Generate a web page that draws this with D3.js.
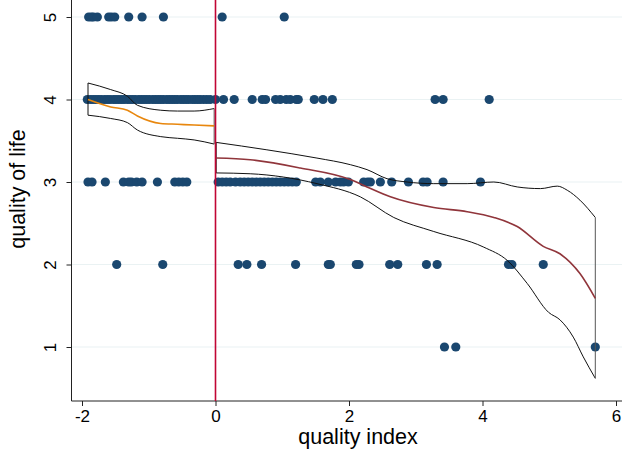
<!DOCTYPE html>
<html><head><meta charset="utf-8">
<script src="https://cdn.jsdelivr.net/npm/d3@7"></script>
<style>body{margin:0;background:#fff}svg{display:block}text{font-family:"Liberation Sans",Arial,sans-serif;fill:#000}</style>
</head><body><svg id="c" width="622" height="451"></svg>
<script>
// data
const xTicks=[-2,0,2,4,6];
const yTicks=[1,2,3,4,5];
const row5=[-1.90,-1.86,-1.83,-1.77,-1.60,-1.56,-1.51,-1.30,-1.10,-0.78,0.10,1.03];
const row4=[-1.92,-1.87,-1.83,-1.79,-1.75,-1.71,-1.66,-1.62,-1.58,-1.53,-1.49,-1.45,-1.41,-1.37,-1.32,-1.28,-1.24,-1.20,-1.15,-1.11,-1.07,-1.03,-0.99,-0.94,-0.90,-0.86,-0.82,-0.78,-0.73,-0.69,-0.65,-0.61,-0.57,-0.52,-0.48,-0.44,-0.40,-0.35,-0.31,-0.27,-0.23,-0.18,-0.13,-0.08,0.0,0.12,0.28,0.55,0.70,0.75,0.90,0.97,1.06,1.12,1.21,1.24,1.48,1.61,1.75,3.29,3.41,4.10];
const row3=[-1.91,-1.85,-1.65,-1.38,-1.30,-1.26,-1.18,-1.10,-0.87,-0.61,-0.55,-0.49,-0.43,0.04,0.10,0.16,0.22,0.30,0.37,0.43,0.49,0.55,0.61,0.67,0.73,0.79,0.85,0.91,0.97,1.03,1.09,1.15,1.21,1.50,1.57,1.69,1.80,1.87,1.92,1.99,2.22,2.28,2.32,2.47,2.64,2.89,3.11,3.17,3.41,3.97];
const row2=[-1.48,-0.79,0.34,0.47,0.69,1.20,1.69,1.72,2.11,2.15,2.61,2.73,3.16,3.32,4.39,4.44,4.91];
const row1=[3.43,3.60,5.69];
const leftX=[-1.91,-1.57,-1.32,-1.17,-0.82,-0.57,-0.32,-0.02];
const leftFit=[4.00,3.91,3.87,3.80,3.71,3.70,3.69,3.68];
const leftUp=[4.20,4.12,4.04,3.93,3.87,3.86,3.86,3.89];
const leftLo=[3.81,3.77,3.72,3.63,3.55,3.53,3.51,3.46];
const upX=[0.01,0.77,1.52,2.02,2.27,2.57,2.87,3.27,3.77,4.17,4.52,4.87,5.12,5.27,5.46,5.69];
const upY=[3.48,3.39,3.29,3.21,3.15,3.04,3.00,2.98,2.98,3.00,2.94,2.92,2.95,2.90,2.78,2.57];
const fitX=[0.01,0.52,1.27,2.02,2.27,2.62,3.27,3.77,4.17,4.52,4.91,5.16,5.46,5.69];
const fitY=[3.29,3.27,3.17,3.03,2.94,2.82,2.69,2.64,2.57,2.46,2.22,2.13,1.89,1.59];
const loX=[0.01,0.52,1.02,1.52,2.17,2.67,3.27,4.02,4.37,4.67,4.99,5.16,5.36,5.51,5.69];
const loY=[3.11,3.10,3.06,2.98,2.82,2.57,2.40,2.21,2.05,1.77,1.42,1.33,1.12,0.88,0.62];

const svg=d3.select("#c");
const x=d3.scaleLinear().domain([-2,6]).range([82,616]);
const y=d3.scaleLinear().domain([1,5]).range([347,17]);
const left=71.5,bottom=401;

// gridlines
svg.append("g").selectAll("line").data(yTicks).join("line")
 .attr("x1",left).attr("x2",622).attr("y1",d=>y(d)).attr("y2",d=>y(d))
 .attr("stroke","#eaf2f3").attr("stroke-width",1.2);

// axes
const gx=svg.append("g").attr("transform",`translate(0,${bottom})`)
 .call(d3.axisBottom(x).tickValues(xTicks).tickSize(5).tickPadding(4).tickFormat(d=>String(d)));
gx.select(".domain").attr("d",`M${left},0H622`);
gx.selectAll("text").style("font-size","17px");
const gy=svg.append("g").attr("transform",`translate(${left},0)`)
 .call(d3.axisLeft(y).tickValues(yTicks).tickSize(5).tickPadding(0).tickFormat(d=>String(d)));
gy.select(".domain").attr("d",`M0,0V${bottom}`);
gy.selectAll("text").style("font-size","17px")
 .attr("text-anchor","middle").attr("x",null).attr("dy",null)
 .attr("transform","translate(-21,0) rotate(-90)").attr("dy","0.35em");
svg.selectAll(".domain,.tick line").attr("stroke","#222");

svg.append("text").attr("x",358).attr("y",444).attr("text-anchor","middle").style("font-size","21.5px").text("quality index");
svg.append("text").attr("transform","translate(25,189) rotate(-90)").attr("text-anchor","middle").style("font-size","21.5px").text("quality of life");

// scatter
const pts=[].concat(row5.map(v=>[v,5]),row4.map(v=>[v,4]),row3.map(v=>[v,3]),row2.map(v=>[v,2]),row1.map(v=>[v,1]));
svg.append("g").selectAll("circle").data(pts).join("circle")
 .attr("cx",d=>x(d[0])).attr("cy",d=>y(d[1])).attr("r",4.6).attr("fill","#1a476f");

const line=d3.line().x(d=>x(d[0])).y(d=>y(d[1])).curve(d3.curveMonotoneX);
function band(xs,ups,xl,los){
  const g=svg.append("g").attr("fill","none").attr("stroke","#111").attr("stroke-width",1);
  g.append("path").attr("d",line(xs.map((v,i)=>[v,ups[i]])));
  g.append("path").attr("d",line(xl.map((v,i)=>[v,los[i]])));
  g.append("line").attr("x1",x(xs[0])).attr("x2",x(xl[0])).attr("y1",y(ups[0])).attr("y2",y(los[0]));
  const n=xs.length-1,m=xl.length-1;
  g.append("line").attr("x1",x(xs[n])).attr("x2",x(xl[m])).attr("y1",y(ups[n])).attr("y2",y(los[m])).attr("stroke","#555");
}
band(leftX,leftUp,leftX,leftLo);
svg.append("path").attr("d",line(leftX.map((v,i)=>[v,leftFit[i]]))).attr("fill","none").attr("stroke","#e8870e").attr("stroke-width",1.6);
band(upX,upY,loX,loY);
svg.append("path").attr("d",line(fitX.map((v,i)=>[v,fitY[i]]))).attr("fill","none").attr("stroke","#90353b").attr("stroke-width",1.6);

// cutoff line
svg.append("line").attr("x1",x(0)).attr("x2",x(0)).attr("y1",0).attr("y2",bottom)
 .attr("stroke","#c10534").attr("stroke-width",1.6);
</script></body></html>
